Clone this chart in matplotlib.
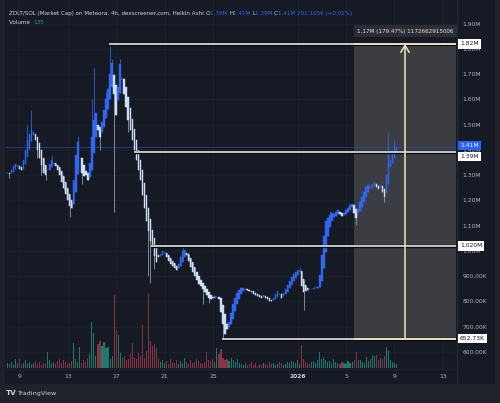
import matplotlib
matplotlib.use("Agg")
import matplotlib.pyplot as plt
import matplotlib.dates as mdates
from matplotlib.patches import Rectangle
from matplotlib.transforms import blended_transform_factory
import numpy as np
import pandas as pd

W, H, DPI = 500, 403, 100

# ---------------- data (prices in K) ----------------
ha_close = [1310, 1305, 1320, 1335, 1345, 1340, 1325, 1320,
            1360, 1400, 1440, 1465, 1480,
            1470, 1440, 1400, 1370, 1340, 1310, 1300,
            1320, 1345, 1360, 1350, 1335,
            1320, 1300, 1275, 1250, 1225, 1200, 1180,
            1170,
            1280, 1380, 1430,
            1370, 1310, 1295, 1300, 1280,
            1350, 1450, 1520, 1545,
            1480, 1450,
            1510, 1560, 1600, 1640,
            1700, 1745,
            1620, 1540,
            1650, 1740,
            1680, 1620, 1570, 1520,
            1480, 1440, 1400, 1360, 1320, 1280,
            1220, 1170, 1120, 1080, 1040, 1020, 980, 955,
            975, 990, 1000, 995,
            975, 960, 950, 940, 932, 925,
            950, 975, 998, 1005,
            985, 960, 935, 915, 900, 885,
            870, 860, 850, 838, 825, 812,
            808, 815, 820, 818, 810,
            760, 710, 672,
            690, 720, 755, 790, 815, 835, 845,
            852, 855, 850, 845, 840, 836,
            830, 826, 822, 818, 815, 825, 813, 808, 803, 800,
            815, 830, 842, 830, 815, 835, 848,
            865, 880, 895, 908, 918, 926, 922,
            862, 838,
            842, 846, 849, 851, 853, 856, 858,
            905, 985, 1060, 1120,
            1130, 1142, 1150, 1146, 1155, 1162,
            1145, 1138, 1150, 1162,
            1172, 1182, 1188,
            1152, 1132,
            1165, 1192, 1215, 1235, 1252,
            1262, 1255, 1265, 1272, 1252, 1246, 1260,
            1232, 1212,
            1300, 1400,
            1362,
            1390, 1415, 1410]

wick_high = {10: 1500, 12: 1560, 22: 1380, 35: 1455, 42: 1600, 43: 1725,
             49: 1630, 51: 1822, 52: 1760, 56: 1760, 87: 1025, 145: 935,
             160: 1160, 189: 1470, 192: 1440}
wick_low = {1: 1290, 15: 1370, 17: 1300, 19: 1280, 28: 1240, 31: 1135,
            37: 1265, 46: 1400, 53: 1155, 60: 1470, 70: 900, 71: 873,
            73: 930, 97: 790, 100: 795, 107: 653, 147: 766, 173: 1103,
            187: 1195, 190: 1340}

volume = [5, 4, 6, 3, 9, 5, 10, 4,
          5, 8, 4, 6, 3, 5, 7, 4,
          6, 3, 5, 4, 16, 8, 5, 6,
          4, 7, 9, 5, 8, 6, 4, 5,
          7, 25, 9, 6, 21, 5, 8, 6,
          10, 14, 46, 35, 12, 24, 27, 22,
          26, 20, 21, 9, 12, 73, 38, 33,
          15, 10, 12, 8, 9, 14, 25, 10,
          9, 15, 12, 43, 10, 17, 75, 27,
          22, 24, 20, 9, 6, 8, 5, 7,
          4, 9, 6, 5, 8, 4, 7, 5,
          10, 6, 4, 8, 5, 6, 9, 7,
          5, 4, 6, 16, 8, 7, 9, 6,
          20, 14, 19, 10, 8, 9, 7, 10,
          8, 6, 9, 5, 4, 3, 5, 3,
          4, 6, 3, 5, 2, 4, 3, 5,
          4, 3, 6, 4, 5, 3, 4, 6,
          5, 3, 4, 6, 5, 7, 6, 5,
          8, 4, 23, 9, 6, 5, 4, 6,
          7, 5, 8, 16, 9, 11, 8, 6,
          7, 5, 9, 6, 5, 4, 6, 5,
          4, 7, 5, 6, 8, 16, 8, 8,
          6, 5, 11, 7, 9, 13, 12, 13,
          8, 10, 9, 12, 21, 18, 8, 6,
          5, 4]

last_candle_time = "2026-01-09 04:00"

price_ticks = [600, 700, 800, 900, 1000, 1100, 1200, 1300, 1400, 1500,
               1600, 1700, 1800, 1900]
price_tick_labels = ["600.00K", "700.00K", "800.00K", "900.00K", "1.00M",
                     "1.10M", "1.20M", "1.30M", "1.40M", "1.50M", "1.60M",
                     "1.70M", "1.80M", "1.90M"]
date_ticks = ["2025-12-09", "2025-12-13", "2025-12-17", "2025-12-21",
              "2025-12-25", "2026-01-01", "2026-01-05", "2026-01-09",
              "2026-01-13"]
date_tick_labels = ["9", "13", "17", "21", "25", "2026", "5", "9", "13"]

levels = [(1820, "1.82M", "2025-12-16 10:00"),
          (1390, "1.39M", "2025-12-18 12:00"),
          (1020, "1.020M", "2025-12-19 22:00"),
          (652.73, "652.73K", "2025-12-25 18:00")]
last_price, last_label = 1410, "1.41M"
measure_start, measure_arrow = "2026-01-05 16:00", "2026-01-09 21:00"
measure_low, measure_high = 652.73, 1820
measure_text = "1.17M (179.47%) 1172662915006"

title_main = "ZDLT/SOL (Market Cap) on Meteora, 4h, dexscreener.com, Heikin Ashi"
ohlc_keys = ["O", "H", "L", "C"]
ohlc_vals = ["1.39M", "1.41M", "1.39M", "1.41M"]
change_text = "201.1056 (+0.01%)"
volume_value = "135"

# ---------------- styling ----------------
BG = "#161a25"
OUTER = "#1f222b"
UP = "#2f66f2"
DOWN = "#cddff3"
DOWN_WICK = "#97a6ba"
VOL_UP = "#23786c"
VOL_DN = "#8a3342"
TXT = "#b2b5be"
FS = 4.3
FS_HEAD = 4.1

fig = plt.figure(figsize=(W / DPI, H / DPI), dpi=DPI, facecolor=OUTER)


def fx(x):
    return x / W


def fy(y):
    return 1 - y / H


# chart panel background
fig.patches.append(Rectangle((fx(5), fy(383)), fx(489), 383 / H,
                             transform=fig.transFigure, color=BG, zorder=-5))

ax = fig.add_axes([fx(6), fy(368), fx(450), 368 / H])
ax.set_facecolor("none")
ax.set_zorder(2)

times = pd.date_range(end=last_candle_time, periods=len(ha_close), freq="4h")
t = mdates.date2num(times.to_pydatetime())
c = np.array(ha_close, dtype=float)
o = np.empty_like(c)
o[0] = c[0]
for i in range(1, len(c)):
    o[i] = (o[i - 1] + c[i - 1]) / 2
hi = np.array([max(o[i], c[i], wick_high.get(i, -1)) for i in range(len(c))])
lo = np.array([min(o[i], c[i], wick_low.get(i, 1e9)) for i in range(len(c))])
up = c >= o

base = mdates.date2num(pd.Timestamp("2025-12-09"))
ax.set_xlim(base - 1.10, base + 36.09)
ax.set_ylim(536.6, 1993.9)

# grid
for p in price_ticks:
    ax.axhline(p, color="#1e222d", lw=0.6, zorder=0)
for d in date_ticks:
    ax.axvline(mdates.date2num(pd.Timestamp(d)), color="#1e222d", lw=0.6, zorder=0)

# measure box
ms = mdates.date2num(pd.Timestamp(measure_start))
ma = mdates.date2num(pd.Timestamp(measure_arrow))
xr = ax.get_xlim()[1]
ax.add_patch(Rectangle((ms, measure_low), xr - ms, measure_high - measure_low,
                       color="#3c3d42", zorder=1, lw=0))

# volume
vtr = blended_transform_factory(ax.transData, ax.transAxes)
vcol = [VOL_UP if u else VOL_DN for u in up]
ax.bar(t, np.array(volume) / 368.0, width=0.09, bottom=0, color=vcol,
       transform=vtr, zorder=2, lw=0)

# current price line
ax.axhline(last_price, color="#2a4aa8", lw=0.6, alpha=0.8, zorder=2)

# candles
wcol = [UP if u else DOWN_WICK for u in up]
bcol = [UP if u else DOWN for u in up]
ax.vlines(t, lo, hi, colors=wcol, lw=0.55, zorder=3)
ax.bar(t, np.abs(c - o), bottom=np.minimum(o, c), width=0.12, color=bcol,
       edgecolor=bcol, lw=0.3, zorder=4)

# horizontal levels
for p, lab, start in levels:
    s = mdates.date2num(pd.Timestamp(start))
    ax.plot([s, xr], [p, p], color="#0b0d12", lw=2.4, zorder=5,
            solid_capstyle="butt")
    ax.plot([s, xr], [p, p], color="#e4e4e4", lw=1.2, zorder=6,
            solid_capstyle="butt")

# measure edges + arrow
for p in (measure_low, measure_high):
    ax.plot([ms, xr], [p, p], color="#e9e4b4", lw=1.2, zorder=7,
            solid_capstyle="butt")
ax.annotate("", xy=(ma, measure_high), xytext=(ma, measure_low),
            arrowprops=dict(arrowstyle="->,head_length=0.5,head_width=0.3",
                            color="#ece7b6", lw=1.1, shrinkA=0, shrinkB=0),
            zorder=8)

# axes
for s in ax.spines.values():
    s.set_visible(False)
ax.yaxis.tick_right()
ax.set_yticks(price_ticks)
ax.set_yticklabels(price_tick_labels)
ax.tick_params(axis="y", length=0, pad=4.8, labelsize=FS, labelcolor=TXT)
ax.set_xticks([mdates.date2num(pd.Timestamp(d)) for d in date_ticks])
ax.set_xticklabels(date_tick_labels)
ax.tick_params(axis="x", length=0, pad=4.0, labelsize=FS, labelcolor=TXT)
for tl in ax.get_xticklabels():
    if tl.get_text() == "2026":
        tl.set_fontweight("bold")
        tl.set_color("#d1d4dc")

# separators
fig.add_artist(plt.Line2D([fx(456.5), fx(456.5)], [fy(0), fy(383)],
                          transform=fig.transFigure, color="#2a2e39", lw=0.6,
                          zorder=1))
fig.add_artist(plt.Line2D([fx(5), fx(456.5)], [fy(368.5), fy(368.5)],
                          transform=fig.transFigure, color="#222631", lw=0.5,
                          zorder=1))


# price label boxes on the axis
def axis_label(p, text, fc, tc, dy=0.0):
    ypix = H - ax.transData.transform((0, p))[1] * (H / fig.bbox.height) + dy
    fig.text(fx(460), fy(ypix), text, fontsize=FS, color=tc, va="center",
             ha="left", zorder=20,
             bbox=dict(boxstyle="square,pad=0.35", fc=fc, ec="none"))


for p, lab, start in levels:
    dy = 3.6 if lab == "1.39M" else 0.0
    axis_label(p, lab, "#ffffff", "#131722", dy)
axis_label(last_price, last_label, "#2962ff", "#ffffff", -2.3)

# measure text box
fig.text(fx(405.5), fy(31), measure_text, fontsize=FS_HEAD, color="#e8e8e8",
         ha="center", va="center", zorder=20,
         bbox=dict(boxstyle="square,pad=0.55", fc="#2a2d35", ec="none"))

# header texts
fig.canvas.draw()
rend = fig.canvas.get_renderer()


def seq_text(x, y, pieces):
    for s, col in pieces:
        tx = fig.text(fx(x), fy(y), s, fontsize=FS_HEAD, color=col, ha="left",
                      va="center", zorder=20)
        bb = tx.get_window_extent(rend)
        x += bb.width * (W / fig.bbox.width)
    return x


pieces = [(title_main + " ", "#d1d4dc")]
for k, v in zip(ohlc_keys, ohlc_vals):
    pieces.append((k, "#d1d4dc"))
    pieces.append((v + " ", "#2f66f2"))
pieces.append((change_text, "#2f66f2"))
seq_text(9, 13.3, pieces)
seq_text(9, 22.7, [("Volume  ", "#d1d4dc"), (volume_value, "#26a69a")])

# TradingView mark
fig.text(fx(6), fy(393.3), "TV", fontsize=5.2, color="#d1d4dc",
         fontweight="bold", ha="left", va="center")
fig.text(fx(17), fy(393.3), "TradingView", fontsize=4.6, color="#d1d4dc",
         ha="left", va="center")

fig.savefig("out.png", dpi=DPI, facecolor=OUTER)
